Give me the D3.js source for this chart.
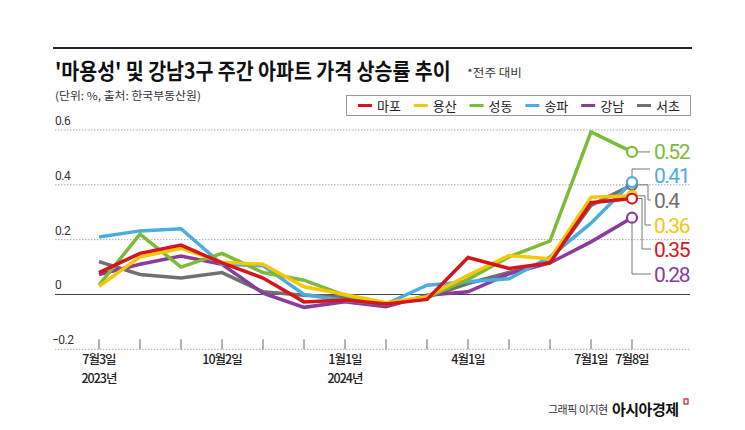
<!DOCTYPE html>
<html><head><meta charset="utf-8">
<script src="https://cdn.jsdelivr.net/npm/d3@7"></script>
<style>
html,body{margin:0;padding:0;background:#fff;}
svg{display:block;font-family:"Noto Sans CJK KR","Noto Sans",sans-serif;}
</style></head>
<body>
<svg id="chart" width="745" height="430"></svg>
<script>
// ---- data ----
const weeks = ["2023-07-03","2023-07-31","2023-09-04","2023-10-02","2023-10-30","2023-12-04","2024-01-01","2024-01-29","2024-03-04","2024-04-01","2024-04-29","2024-06-03","2024-07-01","2024-07-08"];
const xLabels = ["7월3일","","","10월2일","","","1월1일","","","4월1일","","","7월1일","7월8일"];
const yearLabels = ["2023년","","","","","","2024년","","","","","","",""];
const yTicks = [-0.2, 0, 0.2, 0.4, 0.6];
const seriesNames = ["마포","용산","성동","송파","강남","서초"];
const mapo    = [0.08, 0.15, 0.18, 0.115, 0.06, -0.027, -0.02, -0.035, -0.018, 0.135, 0.095, 0.115, 0.335, 0.35];
const yongsan = [0.03, 0.137, 0.168, 0.118, 0.11, 0.028, 0.0, -0.03, -0.008, 0.07, 0.142, 0.13, 0.355, 0.36];
const seongdong = [0.034, 0.22, 0.10, 0.15, 0.08, 0.052, -0.003, -0.035, -0.01, 0.055, 0.137, 0.195, 0.593, 0.52];
const songpa  = [0.21, 0.232, 0.24, 0.11, 0.105, 0.0, -0.022, -0.035, 0.034, 0.046, 0.057, 0.137, 0.26, 0.41];
const gangnam = [0.073, 0.11, 0.14, 0.11, 0.005, -0.047, -0.027, -0.045, -0.003, 0.01, 0.075, 0.115, 0.192, 0.28];
const seocho  = [0.12, 0.073, 0.06, 0.08, 0.01, -0.003, -0.01, -0.035, -0.01, 0.04, 0.08, 0.12, 0.325, 0.40];
const endLabels = ["0.35","0.36","0.52","0.41","0.28","0.4"];

const colors = {"마포":"#d7141c","용산":"#f5c70a","성동":"#7cba37","송파":"#4badde","강남":"#8a3b9b","서초":"#707070"};
const seriesData = {"마포":mapo,"용산":yongsan,"성동":seongdong,"송파":songpa,"강남":gangnam,"서초":seocho};

const svg = d3.select("#chart");
const x = d3.scalePoint().domain(d3.range(weeks.length)).range([99, 632]);
const y = d3.scaleLinear().domain([-0.2, 0.6]).range([349.3, 130]);

// helper: place text squeezed horizontally to a target width
function fitText(sel, tx, ty, width) {
  const w = sel.node().getComputedTextLength();
  const k = w > 0 ? width / w : 1;
  sel.attr("x", 0).attr("y", 0).attr("transform", `translate(${tx},${ty}) scale(${k},1)`);
}

// top rule
svg.append("line").attr("x1",53).attr("x2",692).attr("y1",48).attr("y2",48).attr("stroke","#222").attr("stroke-width",2);

// title
const title = svg.append("text").attr("font-size",22).attr("font-weight",700).attr("fill","#111")
  .text("'마용성' 및 강남3구 주간 아파트 가격 상승률 추이");
fitText(title, 55, 79, 396);
const note = svg.append("text").attr("font-size",11).attr("fill","#333").text("*전주 대비");
fitText(note, 467, 77, 55);
const sub = svg.append("text").attr("font-size",11).attr("fill","#333").text("(단위: %, 출처: 한국부동산원)");
fitText(sub, 55, 100, 146);

// legend
const lg = svg.append("g");
lg.append("rect").attr("x",346.5).attr("y",95.5).attr("width",344).attr("height",20).attr("fill","#fff").attr("stroke","#999");
seriesNames.forEach((n,i)=>{
  const lx = 358 + i*55.8;
  lg.append("line").attr("x1",lx).attr("x2",lx+14).attr("y1",105.5).attr("y2",105.5).attr("stroke",colors[n]).attr("stroke-width",3);
  lg.append("text").attr("x",lx+19).attr("y",110.5).attr("font-size",13).attr("fill","#222").text(n);
});

// grid
const grid = svg.append("g");
yTicks.forEach(t=>{
  grid.append("line").attr("x1",55).attr("x2",690).attr("y1",y(t)).attr("y2",y(t))
    .attr("stroke", t===0 ? "#444" : "#aaa").attr("stroke-width", t===0?1.2:1)
    .attr("stroke-dasharray", t===0 ? null : "1.5,1.5");
  grid.append("text").attr("x", t<0 ? 52 : 55).attr("y", y(t)-5).attr("font-size",12).attr("fill","#333")
    .attr("font-family","Roboto, sans-serif").attr("letter-spacing",-0.5).text(t===0?"0":d3.format(".1f")(t));
});

// x ticks
const xt = svg.append("g");
weeks.forEach((w,i)=>{
  xt.append("line").attr("x1",x(i)).attr("x2",x(i)).attr("y1",y(-0.2)-10).attr("y2",y(-0.2)).attr("stroke","#666");
  if (xLabels[i]) xt.append("text").attr("x",x(i)).attr("y",364).attr("text-anchor","middle").attr("font-size",12.5).attr("font-weight",500).attr("fill","#222")
      .attr("letter-spacing",-1).text(xLabels[i]);
  if (yearLabels[i]) xt.append("text").attr("x",x(i)).attr("y",383).attr("text-anchor","middle").attr("font-size",12.5).attr("font-weight",500).attr("fill","#222")
      .attr("letter-spacing",-1).text(yearLabels[i]);
});

// lines
const line = d3.line().x((d,i)=>x(i)).y(d=>y(d));
const drawOrder = ["서초","강남","송파","성동","용산","마포"];
const lines = svg.append("g");
drawOrder.forEach(n=>{
  lines.append("path").datum(seriesData[n]).attr("d",line).attr("fill","none")
    .attr("stroke",colors[n]).attr("stroke-width",3.5).attr("stroke-linejoin","miter");
});

// leader lines & end labels
const last = weeks.length-1;
const ex = x(last);
const lead = svg.append("g").attr("fill","none").attr("stroke","#777").attr("stroke-width",1);
const lblY = {"성동":151,"송파":175,"서초":200,"용산":225,"마포":249,"강남":274};
const bendX = {"서초":648,"용산":645,"마포":642};
seriesNames.forEach(n=>{
  const ey = y(seriesData[n][last]);
  let p;
  if (n==="성동") p = `M${ex},${ey}H650`;
  else if (n==="송파") p = `M${ex},${ey}V169H650`;
  else if (n==="강남") p = `M${ex},${ey}V${lblY[n]}H651`;
  else p = `M${ex},${ey}H${bendX[n]}V${lblY[n]}H651`;
  lead.append("path").attr("d",p);
});
const circ = svg.append("g");
drawOrder.forEach(n=>{
  circ.append("circle").attr("cx",ex).attr("cy",y(seriesData[n][last])).attr("r",5)
    .attr("fill","#fff").attr("stroke",colors[n]).attr("stroke-width",2.2);
});
seriesNames.forEach((n,i)=>{
  svg.append("text").attr("x",654).attr("y",lblY[n]+7.5).attr("font-size",21).attr("fill",colors[n])
    .attr("font-family","Roboto, sans-serif").attr("letter-spacing",-1.5).text(endLabels[i]);
});

// footer
svg.append("text").attr("x",548).attr("y",414).attr("font-size",11).attr("fill","#333")
  .attr("letter-spacing",-0.5).text("그래픽 이지현");
svg.append("text").attr("x",612).attr("y",415).attr("font-size",15).attr("font-weight",700).attr("fill","#111")
  .attr("letter-spacing",-0.5).text("아시아경제");
svg.append("rect").attr("x",684).attr("y",399).attr("width",4).attr("height",5).attr("fill","none").attr("stroke","#d7141c").attr("stroke-width",1.2);
</script>
</body></html>
